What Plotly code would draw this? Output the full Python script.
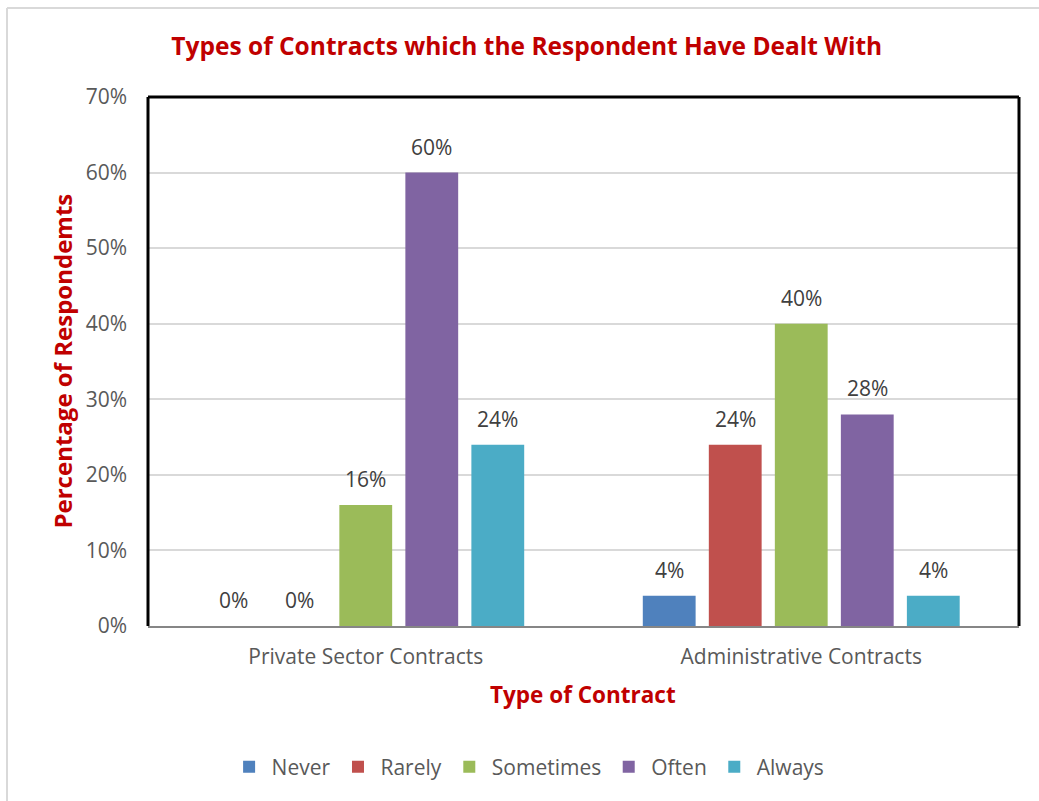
import plotly.graph_objects as go

# Survey results: share of respondents by contract type and frequency
categories = ["Private Sector Contracts", "Administrative Contracts"]
series_names = ["Never", "Rarely", "Sometimes", "Often", "Always"]
never = [0, 4]
rarely = [0, 24]
sometimes = [16, 40]
often = [60, 28]
always = [24, 4]
y_ticks = [0, 10, 20, 30, 40, 50, 60, 70]
y_tick_labels = ["0%", "10%", "20%", "30%", "40%", "50%", "60%", "70%"]

colors = ["#4F81BD", "#C0504D", "#9BBB59", "#8064A2", "#4BACC6"]
all_series = [never, rarely, sometimes, often, always]

FONT = "Open Sans"
RED = "#C00000"
GREY_TXT = "#595959"
LABEL_TXT = "#404040"

BARGAP = 0.242
BARGROUPGAP = 0.2

fig = go.Figure()
for name, vals, col in zip(series_names, all_series, colors):
    fig.add_trace(go.Bar(
        name=name, x=categories, y=vals, marker=dict(color=col, line=dict(width=0)),
    ))

# value labels above each bar, centred on its slot within the group
n = len(series_names)
slot = (1 - BARGAP) / n
annotations = []
for i, vals in enumerate(all_series):
    for ci, v in enumerate(vals):
        annotations.append(dict(
            x=ci + (i - (n - 1) / 2) * slot, y=v, xref="x", yref="y",
            text=f"{v}%", showarrow=False, xanchor="center", yanchor="bottom", yshift=10,
            font=dict(family=FONT, size=21, color=LABEL_TXT),
        ))

# axis titles
annotations.append(dict(
    x=-0.0987, y=0.5, xref="paper", yref="paper", text="<b>Percentage of Respondemts</b>",
    textangle=-90, showarrow=False, xanchor="center", yanchor="middle",
    font=dict(family=FONT, size=24, color=RED),
))
annotations.append(dict(
    x=0.4994, y=-0.1304, xref="paper", yref="paper", text="<b>Type of Contract</b>",
    showarrow=False, xanchor="center", yanchor="middle",
    font=dict(family=FONT, size=22.5, color=RED),
))

shapes = [
    # plot frame: left, top, right
    dict(type="line", xref="paper", yref="paper", x0=0, x1=0, y0=0, y1=1,
         line=dict(color="black", width=3)),
    dict(type="line", xref="paper", yref="paper", x0=0, x1=1, y0=1, y1=1,
         line=dict(color="black", width=3)),
    dict(type="line", xref="paper", yref="paper", x0=1, x1=1, y0=0, y1=1,
         line=dict(color="black", width=3)),
    # outer chart border (left and top edges)
    dict(type="line", xref="paper", yref="paper", x0=-0.1619, x1=-0.1619, y0=-0.40, y1=1.1682,
         line=dict(color="#D9D9D9", width=2)),
    dict(type="line", xref="paper", yref="paper", x0=-0.1619, x1=1.05, y0=1.1682, y1=1.1682,
         line=dict(color="#D9D9D9", width=2)),
]

fig.update_layout(
    width=1039, height=801,
    margin=dict(l=148, r=20, t=97, b=175),
    paper_bgcolor="white", plot_bgcolor="white",
    barmode="group", bargap=BARGAP, bargroupgap=BARGROUPGAP,
    title=dict(
        text="<b>Types of Contracts which the Respondent Have Dealt With</b>",
        x=0.507, xref="container", xanchor="center",
        y=0.9426, yref="container", yanchor="middle",
        font=dict(family=FONT, size=24.5, color=RED),
    ),
    showlegend=True,
    legend=dict(
        orientation="h", x=0.4364, xanchor="center", y=-0.2665, yanchor="middle",
        font=dict(family=FONT, size=21, color=GREY_TXT),
        itemwidth=35, traceorder="normal",
    ),
    annotations=annotations,
    shapes=shapes,
)

fig.update_xaxes(
    showgrid=False, showline=True, linecolor="#868686", linewidth=2,
    ticks="", tickfont=dict(family=FONT, size=21, color=GREY_TXT),
    ticklabelstandoff=11, fixedrange=True,
)
fig.update_yaxes(
    range=[0, 70], tickvals=y_ticks, ticktext=y_tick_labels,
    showgrid=True, gridcolor="#D9D9D9", gridwidth=1.5,
    zeroline=False, showline=False, ticks="",
    tickfont=dict(family=FONT, size=21, color=GREY_TXT),
    ticklabelstandoff=20, fixedrange=True,
)

fig.write_html("out.html")
